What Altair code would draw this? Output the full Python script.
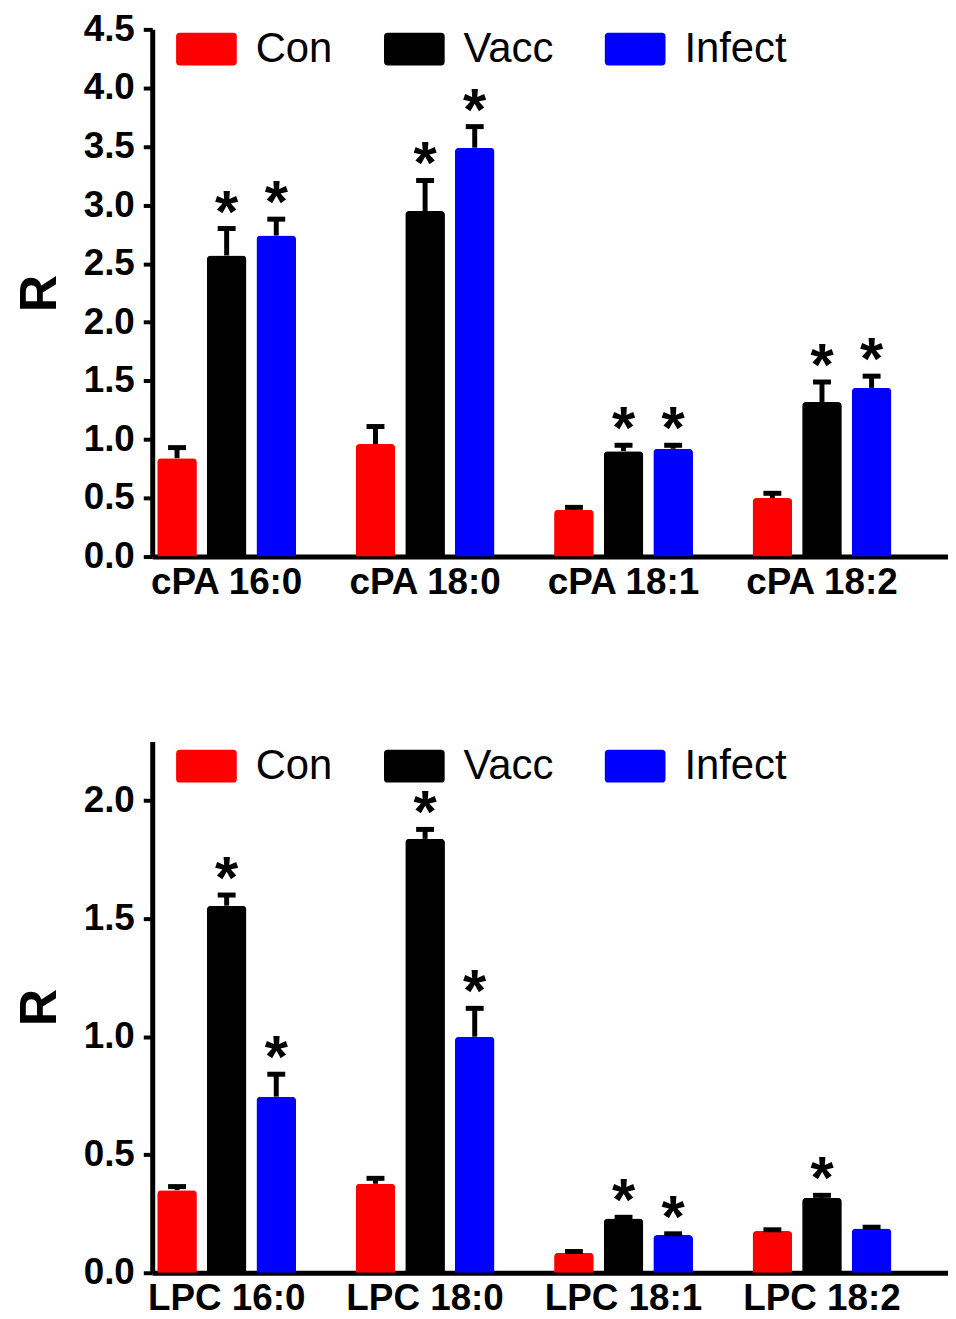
import altair as alt
import pandas as pd

FONT = "Liberation Sans, Arial, sans-serif"

series = ["Con", "Vacc", "Infect"]
series_colors = ["#FF0000", "#000000", "#0000FF"]

# ---- top panel (cPA) ----
cpa_groups = ["cPA 16:0", "cPA 18:0", "cPA 18:1", "cPA 18:2"]
cpa_con = [0.84, 0.96, 0.40, 0.50]
cpa_vacc = [2.57, 2.95, 0.90, 1.32]
cpa_infect = [2.74, 3.49, 0.92, 1.44]
cpa_con_err = [0.09, 0.15, 0.02, 0.04]
cpa_vacc_err = [0.23, 0.26, 0.05, 0.17]
cpa_infect_err = [0.14, 0.18, 0.03, 0.10]
cpa_con_sig = [False, False, False, False]
cpa_vacc_sig = [True, True, True, True]
cpa_infect_sig = [True, True, True, True]
cpa_ticks = [0.0, 0.5, 1.0, 1.5, 2.0, 2.5, 3.0, 3.5, 4.0, 4.5]
cpa_ymax = 4.5

# ---- bottom panel (LPC) ----
lpc_groups = ["LPC 16:0", "LPC 18:0", "LPC 18:1", "LPC 18:2"]
lpc_con = [0.35, 0.377, 0.085, 0.177]
lpc_vacc = [1.555, 1.838, 0.23, 0.318]
lpc_infect = [0.746, 1.00, 0.16, 0.188]
lpc_con_err = [0.015, 0.023, 0.005, 0.005]
lpc_vacc_err = [0.045, 0.04, 0.005, 0.01]
lpc_infect_err = [0.095, 0.12, 0.005, 0.005]
lpc_con_sig = [False, False, False, False]
lpc_vacc_sig = [True, True, True, True]
lpc_infect_sig = [True, True, True, False]
lpc_ticks = [0.0, 0.5, 1.0, 1.5, 2.0]
lpc_ymax = 2.25

# rounded rectangle legend swatch (unit path, scaled by sqrt(symbolSize)/2)
SWATCH = ("M-0.88,-0.54 H0.88 Q1,-0.54 1,-0.42 V0.42 Q1,0.54 0.88,0.54 "
          "H-0.88 Q-1,0.54 -1,0.42 V-0.42 Q-1,-0.54 -0.88,-0.54 Z")


def make_df(groups, vals, errs, sigs):
    rows = []
    for s, v, e, g in zip(series, vals, errs, sigs):
        for grp, vv, ee, gg in zip(groups, v, e, g):
            rows.append({"group": grp, "series": s, "value": vv, "err": ee,
                         "top": vv + ee, "sig": bool(gg)})
    return pd.DataFrame(rows)


def panel(df, groups, ymax, ticks, height, legend_y):
    base = alt.Chart(df)
    x = alt.X("group:N", sort=groups,
              scale=alt.Scale(paddingInner=0.25, paddingOuter=0.13, align=0),
              axis=alt.Axis(title=None, labelFontSize=37, labelFontWeight="bold",
                            labelFont=FONT, labelColor="black", ticks=False,
                            labelPadding=8, domainWidth=5, domainColor="black",
                            labelAngle=0))
    xo = alt.XOffset("series:N", sort=series,
                     scale=alt.Scale(paddingInner=0.2, paddingOuter=0.1))
    yaxis = alt.Axis(title="R", values=ticks, format=".1f", grid=False,
                     labelFontSize=37, labelFontWeight="bold", labelFont=FONT,
                     labelColor="black", labelPadding=9, tickSize=9, tickWidth=4,
                     tickColor="black", domainWidth=5, domainColor="black",
                     titleFontSize=52, titleFontWeight="bold", titleFont=FONT,
                     titleColor="black", titlePadding=17)
    yscale = alt.Scale(domain=[0, ymax], nice=False, zero=True)
    color = alt.Color("series:N", sort=series,
                      scale=alt.Scale(domain=series, range=series_colors),
                      legend=alt.Legend(title=None, orient="none", legendX=24,
                                        legendY=legend_y, direction="horizontal",
                                        symbolType=SWATCH, symbolSize=3721,
                                        symbolStrokeWidth=0, symbolOpacity=1,
                                        labelFontSize=42, labelFont=FONT,
                                        labelColor="black", labelOffset=19,
                                        columnPadding=51))
    bars = base.mark_bar(cornerRadiusTopLeft=4, cornerRadiusTopRight=4, opacity=1).encode(
        x=x, xOffset=xo, y=alt.Y("value:Q", scale=yscale, axis=yaxis), color=color)
    stems = base.mark_rule(color="black", strokeWidth=5).encode(
        x=x, xOffset=xo, y=alt.Y("value:Q", scale=yscale, axis=yaxis), y2="top:Q")
    caps = base.mark_tick(color="black", thickness=5, size=18, opacity=1).encode(
        x=x, xOffset=xo, y=alt.Y("top:Q", scale=yscale, axis=yaxis))
    stars = base.transform_filter("datum.sig").mark_text(
        text="*", fontSize=60, fontWeight="bold", font=FONT, color="black",
        baseline="alphabetic", dy=3
    ).encode(x=x, xOffset=xo, y=alt.Y("top:Q", scale=yscale, axis=yaxis))
    return alt.layer(stems, bars, caps, stars).properties(width=800, height=height)


df_top = make_df(cpa_groups, [cpa_con, cpa_vacc, cpa_infect],
                 [cpa_con_err, cpa_vacc_err, cpa_infect_err],
                 [cpa_con_sig, cpa_vacc_sig, cpa_infect_sig])
df_bot = make_df(lpc_groups, [lpc_con, lpc_vacc, lpc_infect],
                 [lpc_con_err, lpc_vacc_err, lpc_infect_err],
                 [lpc_con_sig, lpc_vacc_sig, lpc_infect_sig])

top = panel(df_top, cpa_groups, cpa_ymax, cpa_ticks, 530, -11)
bot = panel(df_bot, lpc_groups, lpc_ymax, lpc_ticks, 534, -6)

chart = alt.vconcat(top, bot, spacing=136).resolve_scale(
    x="independent", y="independent", color="independent", xOffset="independent"
).resolve_legend(color="independent").properties(
    padding={"left": 5, "top": -1, "right": 0, "bottom": 0},
    background="white"
).configure_view(stroke=None)

chart.save("out.html", embed_options={"renderer": "svg", "actions": False})
